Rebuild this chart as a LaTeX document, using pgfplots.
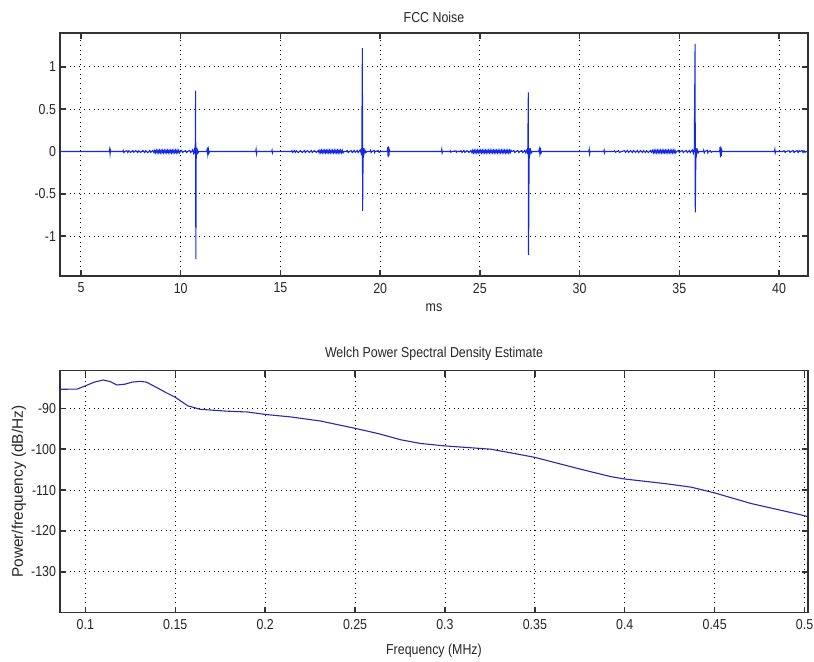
\documentclass[border=0pt]{standalone}
\usepackage{fontspec}
\setmainfont{Liberation Sans}[FakeStretch=0.86]
\newfontfamily\ylfont{Liberation Sans}
\usepackage{pgfplots}
\pgfplotsset{compat=1.18}
\definecolor{topblue}{RGB}{20,40,230}
\definecolor{botblue}{RGB}{40,40,180}
\definecolor{framec}{RGB}{50,50,50}
\pgfplotsset{
  mat/.style={
    scale only axis,
    width=374pt,
    axis line style={framec,line width=0.8pt},
    tick style={framec,line width=0.7pt},
    tick align=inside,
    major tick length=3pt,
    xtick pos=both, ytick pos=both,
    grid=major,
    major grid style={black,dotted,line width=0.45pt},
    /pgf/number format/assume math mode=true,
    tick label style={font=\fontsize{7.2}{8}\selectfont, text=black!85},
    yticklabel style={xshift=1.5pt},
    label style={font=\fontsize{7.2}{8}\selectfont, text=black!85},
    title style={font=\fontsize{7.2}{8}\selectfont, text=black!85, yshift=-4.5pt},
    clip=true,
  }
}
\begin{document}
\begin{tikzpicture}
\useasboundingbox (0,0) rectangle (407pt,331pt);
% ---------------- top axis ----------------
\begin{axis}[mat,
  at={(30pt,193pt)}, anchor=south west,
  height=121.5pt,
  xmin=3.95, xmax=41.45,
  ymin=-1.47, ymax=1.40,
  xtick={5,10,...,40},
  ytick={-1,-0.5,0,0.5,1},
  yticklabels={-1,-0.5,0,0.5,1},
  title={FCC Noise},
  xlabel={ms},
  xlabel style={yshift=1.5pt},
]
\addplot[topblue, line width=0.55pt] coordinates {
(3.95,0) (6.42,0) (6.44,0.025) (6.46,-0.025) (6.48,0.015) (6.5,0)
(7.1,0) (7.12,0.012) (7.15,-0.012) (7.2,0) (7.3,0.01) (7.35,-0.012) (7.4,0.008) (7.5,-0.01)
(7.6,0.012) (7.65,-0.008) (7.75,0.01) (7.85,-0.012) (7.9,0.008) (8.0,-0.01) (8.1,0.012)
(8.2,-0.012) (8.25,0.01) (8.35,-0.012) (8.45,0.012) (8.5,-0.01) (8.6,0.012) (8.66,-0.012)
(8.7,0.015) (8.74,-0.015) (8.78,0.015) (8.82,-0.015) (8.86,0.015) (8.9,-0.015) (8.94,0.015)
(8.98,-0.015) (9.02,0.015) (9.06,-0.015) (9.1,0.015) (9.14,-0.015) (9.18,0.015) (9.22,-0.015)
(9.26,0.015) (9.3,-0.015) (9.34,0.015) (9.38,-0.015) (9.42,0.015) (9.46,-0.015) (9.5,0.015)
(9.54,-0.015) (9.58,0.015) (9.62,-0.015) (9.66,0.015) (9.7,-0.015) (9.74,0.015) (9.78,-0.015)
(9.82,0.015) (9.86,-0.015) (9.9,0.015) (9.94,-0.015) (9.98,0)
(10.05,0.012) (10.1,-0.012) (10.15,0) (10.25,0.01) (10.3,-0.012) (10.35,0)
(10.45,0.012) (10.5,-0.012) (10.55,0) (10.6,0.02) (10.65,-0.02) (10.7,0.03) (10.73,-0.03)
(10.75,0.72) (10.76,-1.27) (10.78,0.04) (10.8,-0.04) (10.83,0.02) (10.87,-0.015) (10.9,0)
(11.3,0) (11.33,0.025) (11.36,-0.035) (11.39,0.025) (11.42,-0.015) (11.45,0)
(13.76,0) (13.78,0.025) (13.8,-0.025) (13.82,0)
(14.56,0) (14.58,0.015) (14.6,-0.015) (14.62,0)
(15.55,0) (15.58,0.01) (15.62,-0.01) (15.7,0.012) (15.75,-0.01) (15.8,0.008) (15.9,-0.012)
(16.0,0.01) (16.1,-0.01) (16.2,0.012) (16.25,-0.012) (16.35,0.01) (16.45,-0.01)
(16.55,0.012) (16.6,-0.012) (16.7,0.01) (16.8,-0.01) (16.9,0.012)
(16.94,-0.015) (16.98,0.015) (17.02,-0.015) (17.06,0.015) (17.1,-0.015) (17.14,0.015)
(17.18,-0.015) (17.22,0.015) (17.26,-0.015) (17.3,0.015) (17.34,-0.015) (17.38,0.015)
(17.42,-0.015) (17.46,0.015) (17.5,-0.015) (17.54,0.015) (17.58,-0.015) (17.62,0.015)
(17.66,-0.015) (17.7,0.015) (17.74,-0.015) (17.78,0.015) (17.82,-0.015) (17.86,0.015)
(17.9,-0.015) (17.94,0.015) (17.98,-0.015) (18.02,0.015) (18.06,-0.015) (18.1,0.015)
(18.14,-0.015) (18.18,0) (18.3,0) (18.35,0.012) (18.4,-0.012) (18.45,0) (18.55,0.01)
(18.6,-0.012) (18.7,0.012) (18.75,-0.01) (18.85,0.012) (18.9,-0.012) (19.0,0.02) (19.05,-0.02) (19.08,0.03)
(19.11,1.22) (19.12,-0.70) (19.15,0.04) (19.18,-0.04) (19.23,0.02) (19.28,-0.015) (19.33,0)
(19.5,0) (19.52,0.012) (19.55,-0.012) (19.6,0) (19.7,0.012) (19.72,-0.012) (19.75,0)
(19.9,0.01) (19.95,-0.01) (20.0,0)
(20.36,0) (20.38,0.05) (20.4,-0.07) (20.42,0.06) (20.44,-0.05) (20.46,0.02) (20.49,0)
(23.07,0) (23.09,0.025) (23.11,-0.015) (23.13,0)
(23.5,0) (23.52,0.008) (23.55,-0.008) (23.6,0) (23.8,0.008) (23.82,-0.008) (23.85,0)
(24.0,0) (24.05,0.01) (24.1,-0.01) (24.2,0.012) (24.25,-0.01) (24.35,0.01) (24.45,-0.012)
(24.55,0.012)
(24.6,-0.015) (24.64,0.015) (24.68,-0.015) (24.72,0.015) (24.76,-0.015) (24.8,0.015)
(24.84,-0.015) (24.88,0.015) (24.92,-0.015) (24.96,0.015) (25.0,-0.015) (25.04,0.015)
(25.08,-0.015) (25.12,0.015) (25.16,-0.015) (25.2,0.015) (25.24,-0.015) (25.28,0.015)
(25.32,-0.015) (25.36,0.015) (25.4,-0.015) (25.44,0.015) (25.48,-0.015) (25.52,0.015)
(25.56,-0.015) (25.6,0.015) (25.64,-0.015) (25.68,0.015) (25.72,-0.015) (25.76,0.015)
(25.8,-0.015) (25.84,0.015) (25.88,-0.015) (25.92,0.015) (25.96,-0.015) (26.0,0.015)
(26.04,-0.015) (26.08,0.015) (26.12,-0.015) (26.16,0.015) (26.2,-0.015) (26.24,0.015)
(26.28,-0.015) (26.32,0.015) (26.36,-0.015) (26.4,0.015) (26.44,-0.015) (26.48,0.015)
(26.52,-0.015) (26.56,0.015) (26.6,0)
(26.7,0.012) (26.75,-0.012) (26.8,0) (26.9,0.012) (26.95,-0.012) (27.0,0) (27.1,0.012)
(27.15,-0.012) (27.25,0.012) (27.3,-0.015) (27.36,0.02) (27.4,-0.03)
(27.43,0.70) (27.44,-1.22) (27.47,0.04) (27.5,-0.04) (27.54,0.02) (27.58,-0.015) (27.62,0)
(27.95,0) (27.98,0.03) (28.01,-0.03) (28.04,0.02) (28.07,-0.015) (28.1,0)
(30.46,0) (30.48,0.025) (30.5,-0.025) (30.52,0)
(31.21,0) (31.23,0.015) (31.25,-0.015) (31.27,0)
(31.7,0) (31.75,0.008) (31.8,-0.008) (31.95,0.01) (32.0,-0.01) (32.1,0) (32.25,0.01)
(32.3,-0.01) (32.4,0.012) (32.45,-0.01) (32.55,0.01) (32.65,-0.012) (32.7,0.012)
(32.8,-0.01) (32.9,0.012) (32.95,-0.012) (33.05,0.01) (33.15,-0.01) (33.2,0.012)
(33.3,-0.012) (33.35,0.01) (33.45,-0.012) (33.55,0.012) (33.6,-0.01)
(33.66,0.015) (33.7,-0.015) (33.74,0.015) (33.78,-0.015) (33.82,0.015) (33.86,-0.015)
(33.9,0.015) (33.94,-0.015) (33.98,0.015) (34.02,-0.015) (34.06,0.015) (34.1,-0.015)
(34.14,0.015) (34.18,-0.015) (34.22,0.015) (34.26,-0.015) (34.3,0.015) (34.34,-0.015)
(34.38,0.015) (34.42,-0.015) (34.46,0.015) (34.5,-0.015) (34.54,0.015) (34.58,-0.015)
(34.62,0.015) (34.66,-0.015) (34.7,0.015) (34.74,-0.015) (34.78,0.015) (34.82,-0.015) (34.86,0)
(34.95,0.012) (35.0,-0.012) (35.05,0) (35.15,0.012) (35.2,-0.012) (35.25,0) (35.35,0.012)
(35.4,-0.012) (35.5,0.012) (35.55,-0.012) (35.65,0.02) (35.7,-0.02) (35.75,0.03)
(35.79,1.27) (35.80,-0.72) (35.83,0.04) (35.86,-0.04) (35.9,0.02) (35.95,-0.015) (36.0,0)
(36.2,0) (36.22,0.015) (36.25,-0.015) (36.28,0) (36.4,0.015) (36.43,-0.015) (36.46,0)
(36.55,0.01) (36.6,-0.01) (36.65,0)
(37.02,0) (37.04,0.05) (37.06,-0.07) (37.08,0.06) (37.1,-0.05) (37.12,0.02) (37.15,0)
(39.77,0) (39.79,0.025) (39.81,-0.015) (39.83,0)
(40.2,0) (40.25,0.01) (40.3,-0.01) (40.35,0) (40.5,0.01) (40.55,-0.01) (40.6,0)
(40.7,0.012) (40.75,-0.012) (40.8,0) (40.9,0.01) (40.95,-0.012) (41.0,0.01) (41.05,0)
(41.15,0.012) (41.2,-0.012) (41.25,0.01) (41.3,-0.01) (41.35,0) (41.45,0)
};
\end{axis}
% ---------------- bottom axis ----------------
\begin{axis}[mat,
  at={(30pt,24.65pt)}, anchor=south west,
  height=121pt,
  xmin=0.0859, xmax=0.5019,
  ymin=-140, ymax=-80.8,
  xtick={0.1,0.15,...,0.5},
  xticklabels={0.1,0.15,0.2,0.25,0.3,0.35,0.4,0.45,0.5},
  ytick={-130,-120,-110,-100,-90},
  yticklabels={-130,-120,-110,-100,-90},
  title={Welch Power Spectral Density Estimate},
  xlabel={Frequency (MHz)},
  ylabel={Power/frequency (dB/Hz)},
  ylabel style={font=\ylfont\fontsize{7.7}{9}\selectfont, at={(axis description cs:-0.0548,0.5)}, anchor=center, rotate=0},
]
\addplot[botblue, line width=0.55pt] coordinates {
(0.0859,-85.35) (0.0955,-85.3) (0.1,-84.5) (0.105,-83.6) (0.110,-83.07) (0.114,-83.5)
(0.1175,-84.3) (0.122,-84.1) (0.126,-83.6) (0.1305,-83.4) (0.134,-83.6) (0.140,-85.0)
(0.145,-86.2) (0.150,-87.3) (0.157,-89.4) (0.1639,-90.25) (0.1787,-90.7) (0.190,-90.9)
(0.200,-91.5) (0.214,-92.1) (0.2306,-93.1) (0.250,-94.9) (0.263,-96.2) (0.2754,-97.7)
(0.2864,-98.6) (0.300,-99.2) (0.3254,-100.0) (0.3366,-100.9) (0.350,-102.0)
(0.3754,-104.9) (0.3921,-106.7) (0.400,-107.3) (0.4239,-108.5) (0.4370,-109.3)
(0.450,-110.7) (0.4703,-113.3) (0.4944,-115.7) (0.5019,-116.5)
};
\end{axis}
\end{tikzpicture}
\end{document}
